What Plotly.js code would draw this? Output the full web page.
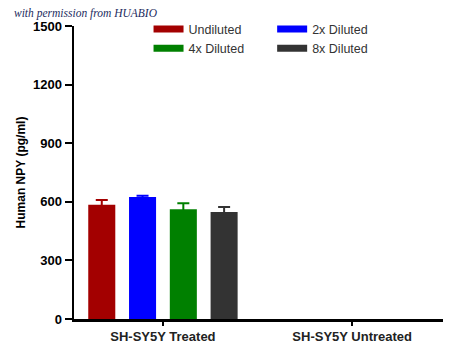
<!DOCTYPE html>
<html>
<head>
<meta charset="utf-8">
<script src="https://cdn.plot.ly/plotly-3.0.1.min.js"></script>
<style>html,body{margin:0;padding:0;background:#fff;}#chart{width:450px;height:357px;}</style>
</head>
<body>
<div id="chart"></div>
<script>
const categories = ["SH-SY5Y Treated", "SH-SY5Y Untreated"];
const seriesNames = ["Undiluted", "2x Diluted", "4x Diluted", "8x Diluted"];
const undiluted = [585, null];
const undilutedErr = [24, null];
const diluted2x = [625, null];
const diluted2xErr = [6, null];
const diluted4x = [562, null];
const diluted4xErr = [30, null];
const diluted8x = [548, null];
const diluted8xErr = [25, null];
const yTicks = [0, 300, 600, 900, 1200, 1500];

const colors = ["#a30000", "#0000ff", "#008000", "#333333"];
const values = [undiluted, diluted2x, diluted4x, diluted8x];
const errors = [undilutedErr, diluted2xErr, diluted4xErr, diluted8xErr];
const legendIds = ["legend", "legend2", "legend", "legend2"];

const traces = [];
for (let i = 0; i < 4; i++) {
  traces.push({
    type: "bar", x: categories, y: values[i], name: seriesNames[i],
    marker: {color: colors[i], line: {width: 0}},
    error_y: {type: "data", array: errors[i], visible: true, color: colors[i], thickness: 2, width: 6},
    showlegend: false, hoverinfo: "none"
  });
}
for (let i = 0; i < 4; i++) {
  traces.push({
    type: "scatter", mode: "lines", x: [null], y: [null], name: seriesNames[i],
    line: {color: colors[i], width: 7}, legend: legendIds[i], showlegend: true
  });
}

const legendCommon = {
  orientation: "v", xanchor: "left", yanchor: "top", y: 1.04,
  bgcolor: "rgba(0,0,0,0)", borderwidth: 0, itemwidth: 30,
  font: {family: "Arial, Liberation Sans, sans-serif", size: 12.5, color: "#333"},
  tracegroupgap: 0, itemclick: false
};

const layout = {
  width: 450, height: 357,
  margin: {l: 74, r: 7, t: 26, b: 38},
  paper_bgcolor: "#fff", plot_bgcolor: "#fff",
  barmode: "group", bargap: 0.138, bargroupgap: 0.337,
  font: {family: "Arial, Liberation Sans, sans-serif", color: "#000"},
  xaxis: {
    type: "category", range: [-0.47, 1.48], showgrid: false, zeroline: false,
    showline: true, linecolor: "#000", linewidth: 2.5,
    ticks: "outside", ticklen: 4, tickwidth: 2, tickcolor: "#000",
    tickfont: {size: 13, weight: "bold", color: "#222"}
  },
  yaxis: {
    range: [0, 1500], tickvals: yTicks, ticktext: yTicks.map(String), showgrid: false, zeroline: false,
    showline: true, linecolor: "#000", linewidth: 2.5,
    ticks: "outside", ticklen: 7, tickwidth: 2, tickcolor: "#000",
    tickfont: {size: 13, weight: "bold", color: "#000"},
    title: {text: "Human NPY (pg/ml)", font: {size: 12, weight: "bold", color: "#000"}, standoff: 5}
  },
  legend: Object.assign({}, legendCommon, {x: 0.202}),
  legend2: Object.assign({}, legendCommon, {x: 0.537}),
  annotations: [{
    xref: "paper", yref: "paper", x: -0.168, y: 1.041, xanchor: "left", yanchor: "middle",
    text: "with permission from HUABIO", showarrow: false,
    font: {family: "Liberation Serif, DejaVu Serif, serif", style: "italic", size: 11.5, color: "#1c2b5e"}
  }]
};

Plotly.newPlot("chart", traces, layout, {displayModeBar: false, staticPlot: true});
</script>
</body>
</html>
